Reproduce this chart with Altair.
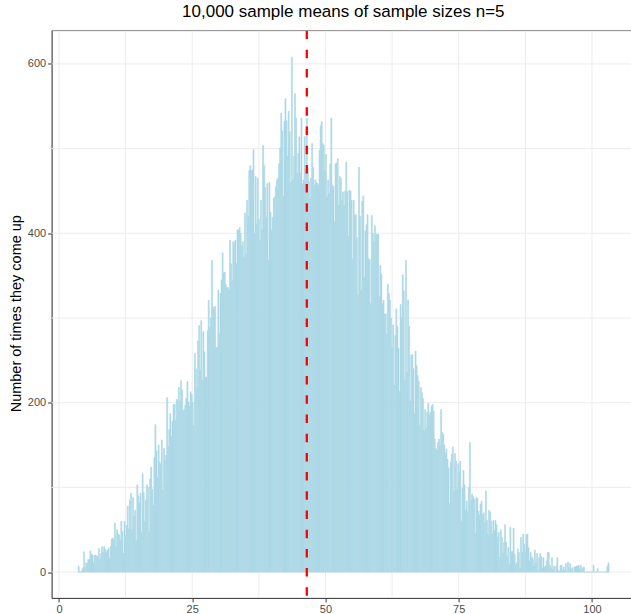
import altair as alt
import pandas as pd

title_text = "10,000 sample means of sample sizes n=5"
y_title = "Number of times they come up"

# histogram bins (centres start at 3.7, width 0.2)
bin_start = 3.7
bin_width = 0.2
counts = [
    7, 0, 0, 2, 5, 24, 4, 11, 10, 15,
    15, 25, 21, 20, 11, 20, 20, 19, 18, 28,
    15, 22, 30, 24, 30, 27, 23, 26, 28, 16,
    30, 39, 40, 38, 58, 30, 50, 45, 44, 38,
    60, 48, 22, 60, 43, 55, 78, 51, 85, 93,
    50, 88, 66, 73, 37, 103, 90, 82, 93, 47,
    116, 94, 60, 85, 103, 100, 47, 110, 124, 98,
    79, 135, 174, 143, 112, 150, 130, 127, 156, 97,
    146, 132, 138, 206, 148, 168, 187, 160, 178, 198,
    198, 179, 204, 202, 218, 202, 226, 215, 190, 192,
    197, 205, 225, 201, 196, 213, 210, 200, 173, 258,
    240, 218, 273, 291, 238, 297, 226, 284, 260, 230,
    230, 285, 321, 289, 300, 368, 313, 309, 314, 265,
    265, 333, 281, 329, 345, 377, 353, 354, 340, 336,
    336, 333, 392, 364, 344, 390, 388, 392, 364, 404,
    404, 407, 400, 385, 390, 372, 424, 375, 439, 420,
    474, 480, 474, 475, 499, 400, 467, 411, 465, 417,
    392, 439, 404, 504, 480, 454, 419, 459, 368, 460,
    425, 404, 419, 441, 443, 455, 463, 465, 482, 501,
    542, 521, 444, 532, 559, 533, 491, 544, 520, 460,
    608, 463, 491, 565, 536, 471, 494, 514, 471, 536,
    459, 463, 514, 475, 536, 477, 461, 441, 465, 506,
    478, 457, 463, 460, 459, 457, 498, 527, 532, 506,
    504, 473, 493, 443, 463, 447, 482, 536, 457, 455,
    413, 482, 483, 488, 433, 467, 465, 439, 449, 433,
    450, 484, 449, 396, 451, 450, 439, 370, 439, 422,
    422, 395, 327, 478, 420, 333, 438, 444, 348, 403,
    410, 422, 370, 369, 317, 421, 400, 390, 409, 399,
    399, 399, 325, 362, 352, 317, 321, 304, 305, 281,
    340, 329, 321, 300, 265, 292, 221, 279, 311, 290,
    264, 213, 316, 300, 351, 332, 226, 368, 236, 321,
    290, 202, 256, 257, 240, 187, 261, 244, 232, 225,
    173, 218, 212, 205, 167, 192, 170, 189, 199, 185,
    189, 196, 198, 190, 157, 146, 144, 153, 157, 149,
    192, 165, 163, 150, 140, 145, 133, 123, 81, 130,
    139, 148, 95, 140, 131, 98, 128, 118, 131, 60,
    99, 120, 103, 73, 84, 71, 100, 153, 85, 92,
    89, 86, 45, 88, 87, 72, 67, 80, 84, 68,
    70, 58, 96, 61, 45, 73, 71, 60, 45, 61,
    49, 61, 56, 41, 47, 17, 50, 41, 22, 35,
    56, 35, 18, 29, 9, 53, 24, 24, 52, 21,
    9, 11, 27, 23, 5, 41, 23, 45, 33, 24,
    44, 45, 29, 13, 23, 18, 16, 7, 26, 11,
    22, 2, 17, 22, 18, 5, 17, 6, 7, 13,
    23, 23, 8, 5, 17, 3, 7, 0, 7, 17,
    2, 0, 8, 8, 2, 6, 2, 10, 1, 12,
    5, 10, 2, 5, 0, 6, 6, 7, 7, 8,
    4, 8, 3, 5, 6, 0, 0, 0, 0, 0,
    0, 0, 0, 8, 0, 0, 0, 4, 0, 0,
    0, 0, 0, 0, 0, 0, 7, 11,
]
mean_value = 46.5

x_ticks = [0, 25, 50, 75, 100]
x_minor = [12.5, 37.5, 62.5, 87.5]
y_ticks = [0, 200, 400, 600]
y_minor = [100, 300, 500]

df = pd.DataFrame({"count": counts})
df["lo"] = bin_start - bin_width / 2 + df.index * bin_width
df["hi"] = df["lo"] + bin_width

W = 579.4
H = 567.4
x_dom = [-1.38, -1.38 + W / 5.33]
y_dom = [-30.45, 639.45]
xs = alt.Scale(domain=x_dom, nice=False, zero=False)
ys = alt.Scale(domain=y_dom, nice=False, zero=False)

FONT = "Liberation Sans"

x_axis = alt.Axis(
    values=x_ticks, title=None, grid=False, labelFont=FONT, labelFontSize=11,
    labelColor="#4d4d4d", tickColor="#333333", tickSize=4, tickWidth=1,
    domainColor="#333333", domainWidth=1, labelPadding=2,
)
y_axis = alt.Axis(
    values=y_ticks, title=y_title, grid=False, labelFont=FONT, labelFontSize=11,
    labelColor="#4d4d4d", tickColor="#333333", tickSize=4, tickWidth=1,
    domainColor="#333333", domainWidth=1, labelPadding=2,
    titleFont=FONT, titleFontSize=14.5, titleFontWeight="normal", titleColor="black",
    titleX=-35.6, titleY=H / 2 - 1, titleBaseline="middle", titleAngle=-90,
)

grid_x = alt.Chart(pd.DataFrame({"v": x_ticks + x_minor})).mark_rule(
    color="#ececec", strokeWidth=1
).encode(x=alt.X("v:Q", scale=xs, axis=x_axis))

grid_y = alt.Chart(pd.DataFrame({"v": y_ticks + y_minor})).mark_rule(
    color="#ececec", strokeWidth=1
).encode(y=alt.Y("v:Q", scale=ys, axis=y_axis))

bars = alt.Chart(df).mark_rect(
    color="#ADD8E6", stroke="#ADD8E6", strokeWidth=0.6
).encode(
    x=alt.X("lo:Q", scale=xs, axis=x_axis),
    x2="hi:Q",
    y=alt.Y("count:Q", scale=ys, axis=y_axis),
    y2=alt.datum(0),
)

vline = alt.Chart(pd.DataFrame({"m": [mean_value]})).mark_rule(
    color="#FF0000", strokeWidth=2.3, strokeDash=[8.5, 10.7]
).encode(x=alt.X("m:Q", scale=xs, axis=x_axis))

top_border = alt.Chart(pd.DataFrame({"t": [y_dom[1]]})).mark_rule(
    color="#999999", strokeWidth=1
).encode(y=alt.Y("t:Q", scale=ys, axis=y_axis))

chart = alt.layer(grid_x, grid_y, bars, vline, top_border).properties(
    width=W,
    height=H,
    title=alt.TitleParams(
        text=title_text, font=FONT, fontSize=17, fontWeight="normal",
        color="black", anchor="middle", offset=8, dx=2,
    ),
    autosize=alt.AutoSizeParams(type="none"),
    padding={"left": 51.6, "top": 30.5, "right": 0, "bottom": 16},
).configure_view(stroke=None).configure(background="white")

chart.save("out.html", embed_options={"renderer": "svg", "actions": False})
